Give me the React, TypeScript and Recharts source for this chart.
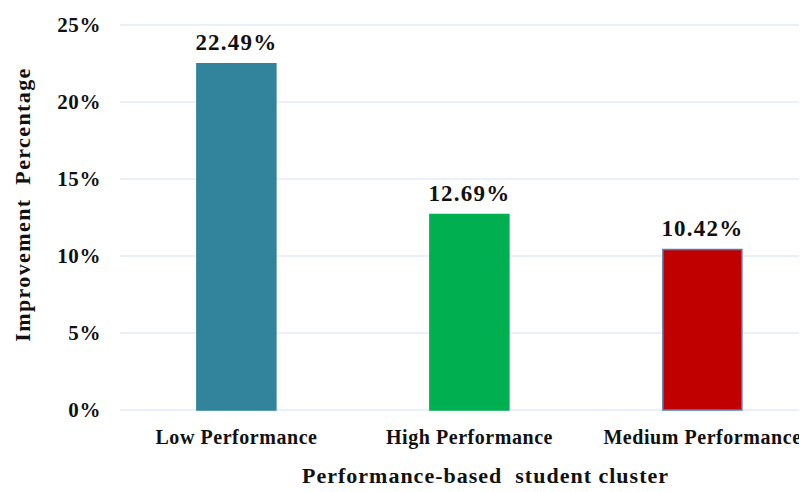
import React from 'react';
import { BarChart, Bar, XAxis, YAxis, CartesianGrid, LabelList, Cell } from 'recharts';

const categories = ['Low Performance', 'High Performance', 'Medium Performance'];
const improvement = [22.49, 12.69, 10.42];
const barColors = ['#31849B', '#00B050', '#C00000'];
const barStrokes = ['#31849B', '#00B050', '#4F81BD'];
const yTicks = [0, 5, 10, 15, 20, 25];

const data = categories.map((c, i) => ({ name: c, value: improvement[i] }));

const FONT = '"Liberation Serif", "Times New Roman", serif';

export default function App() {
  return (
    <div style={{ margin: -8, width: 807, height: 492, overflow: 'hidden', background: '#fff' }}>
      <BarChart
        width={827}
        height={492}
        data={data}
        margin={{ top: 25, right: 8, bottom: 0, left: 8 }}
        barCategoryGap="33%"
      >
        <CartesianGrid vertical={false} stroke="#D6E2F3" strokeWidth={1.2} />
        <XAxis
          dataKey="name"
          axisLine={false}
          tickLine={false}
          tickSize={0}
          tickMargin={20}
          height={82}
          interval={0}
          tick={{ fontFamily: FONT, fontWeight: 'bold', fontSize: 20, fill: '#111', letterSpacing: 0.55 }}
          label={{
            value: 'Performance-based\u00a0\u00a0student cluster',
            position: 'insideBottom',
            offset: 9,
            dx: 16,
            style: { fontFamily: FONT, fontWeight: 'bold', fontSize: 22, fill: '#111', letterSpacing: 1 },
          }}
        />
        <YAxis
          domain={[0, 25]}
          ticks={yTicks}
          axisLine={false}
          tickLine={false}
          tickSize={0}
          tickMargin={19}
          width={112}
          tickFormatter={(v: number) => `${v}%`}
          tick={{ fontFamily: FONT, fontWeight: 'bold', fontSize: 21, fill: '#111', letterSpacing: 0.6 }}
          label={{
            value: 'Improvement\u00a0\u00a0Percentage',
            angle: -90,
            position: 'insideLeft',
            offset: 14,
            dy: -13,
            textAnchor: 'middle',
            style: { fontFamily: FONT, fontWeight: 'bold', fontSize: 22, fill: '#111', textAnchor: 'middle', letterSpacing: 1.4 },
          }}
        />
        <Bar dataKey="value" isAnimationActive={false}>
          {data.map((d, i) => (
            <Cell key={d.name} fill={barColors[i]} stroke={barStrokes[i]} strokeWidth={1.5} />
          ))}
          <LabelList
            dataKey="value"
            position="top"
            offset={14}
            formatter={(v: number) => `${v.toFixed(2)}%`}
            style={{ fontFamily: FONT, fontWeight: 'bold', fontSize: 23, fill: '#111', letterSpacing: 1.2 }}
          />
        </Bar>
      </BarChart>
    </div>
  );
}
